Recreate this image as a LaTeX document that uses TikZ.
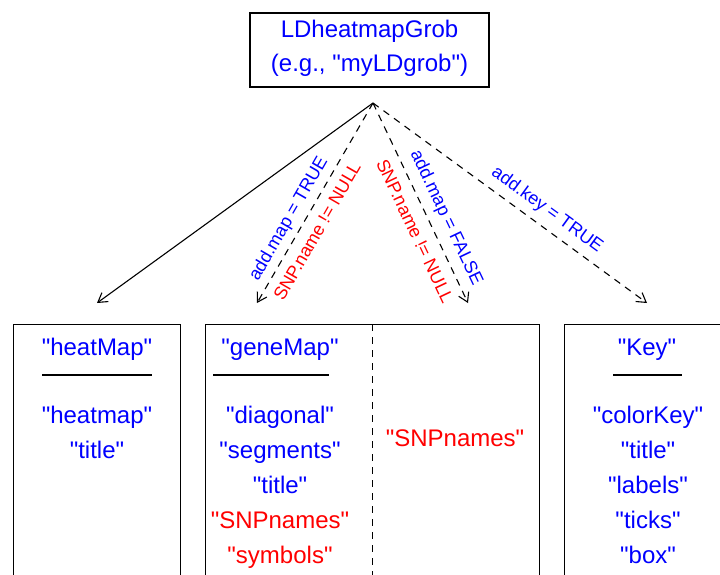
\documentclass[tikz,border=0pt]{standalone}
\usepackage{fontspec}
\setmainfont{Liberation Sans}[Ligatures=TeXOff]
\usetikzlibrary{arrows.meta}
\definecolor{pblue}{RGB}{0,0,255}
\definecolor{pred}{RGB}{255,0,0}
\tikzset{
  boxtxt/.style={font=\fontsize{24}{28}\selectfont, inner sep=0pt, anchor=base},
  lbl/.style={font=\fontsize{18}{20}\selectfont, inner sep=0pt, anchor=center},
  frame/.style={draw, line width=1.4pt, anchor=north west, inner sep=0pt},
  conn/.style={line width=1.1pt, -{Straight Barb[length=9pt,width=11pt,line width=1.1pt]}},
  dconn/.style={conn, dash pattern=on 7pt off 6pt},
  rule/.style={line width=1.2pt}
}
\begin{document}
\begin{tikzpicture}[x=1pt,y=-1pt]
\useasboundingbox (0,0) rectangle (720,574);
\clip (0,0) rectangle (720,574);
% top node
\node[draw, line width=1.4pt, minimum width=239pt, minimum height=74pt, inner sep=0pt] (grob) at (369.5,50) {};
\node[boxtxt, text=pblue] (g1) at (369.5,37) {LDheatmapGrob};
\node[boxtxt, text=pblue] (g2) at (369.5,71) {(e.g., "myLDgrob")};
\coordinate (apex) at (373,103);
% boxes
\node[frame, minimum width=167pt, minimum height=290pt] (hm) at (13,324) {};
\node[frame, minimum width=334pt, minimum height=290pt] (gm) at (205,324) {};
\node[frame, minimum width=170pt, minimum height=290pt] (key) at (564,324) {};
\draw[line width=1.1pt, dash pattern=on 7pt off 6pt] (gm.north) -- (gm.south);
% arrow ends
\coordinate (e1) at (97,303);
\coordinate (e2) at (257,303);
\coordinate (e3) at (468,303);
\coordinate (e4) at (647,303);
\draw[conn] (apex) -- (e1);
\draw[dconn] (apex) -- (e2);
\draw[dconn] (apex) -- (e3);
\draw[dconn] (apex) -- (e4);
% arrow labels
\node[lbl, text=pblue, rotate=60] (l1) at (289,219) {add.map = TRUE};
\node[lbl, text=pred, rotate=60] (l2) at (317,231) {SNP.name != NULL};
\node[lbl, text=pred, rotate=-64.6] (l3) at (415,231) {SNP.name != NULL};
\node[lbl, text=pblue, rotate=-64.6] (l4) at (446,218) {add.map = FALSE};
\node[lbl, text=pblue, rotate=-36.1] (l5) at (547,210) {add.key = TRUE};
% heatMap box
\node[boxtxt, text=pblue] (h0) at (97,355) {"heatMap"};
\coordinate (h0a) at (42,375); \coordinate (h0b) at (152,375);
\draw[rule] (h0a) -- (h0b);
\node[boxtxt, text=pblue] (h1) at (97,423) {"heatmap"};
\node[boxtxt, text=pblue] (h2) at (97,458) {"title"};
% geneMap box
\node[boxtxt, text=pblue] (m0) at (280,355) {"geneMap"};
\coordinate (m0a) at (213,375); \coordinate (m0b) at (329,375);
\draw[rule] (m0a) -- (m0b);
\node[boxtxt, text=pblue] (m1) at (280,423) {"diagonal"};
\node[boxtxt, text=pblue] (m2) at (280,458) {"segments"};
\node[boxtxt, text=pblue] (m3) at (280,493) {"title"};
\node[boxtxt, text=pred] (m4) at (280,528) {"SNPnames"};
\node[boxtxt, text=pred] (m5) at (280,563) {"symbols"};
\node[boxtxt, text=pred] (s1) at (455,446) {"SNPnames"};
% Key box
\node[boxtxt, text=pblue] (k0) at (647,355) {"Key"};
\coordinate (k0a) at (613,375); \coordinate (k0b) at (682,375);
\draw[rule] (k0a) -- (k0b);
\node[boxtxt, text=pblue] (k1) at (648,423) {"colorKey"};
\node[boxtxt, text=pblue] (k2) at (648,458) {"title"};
\node[boxtxt, text=pblue] (k3) at (648,493) {"labels"};
\node[boxtxt, text=pblue] (k4) at (648,528) {"ticks"};
\node[boxtxt, text=pblue] (k5) at (648,563) {"box"};
\end{tikzpicture}
\end{document}
